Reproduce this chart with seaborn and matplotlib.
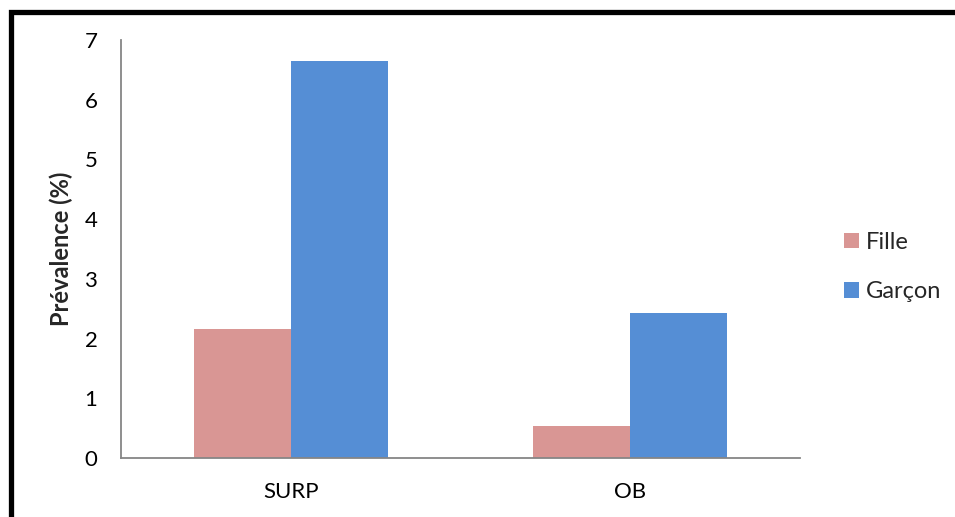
import matplotlib
matplotlib.use("Agg")
import matplotlib.pyplot as plt
from matplotlib.patches import Rectangle, Patch
import seaborn as sns
import pandas as pd

categories = ["SURP", "OB"]
fille = [2.16, 0.54]
garcon = [6.65, 2.42]
series_names = ["Fille", "Garçon"]
colors = ["#D99694", "#558ED5"]

df = pd.DataFrame({
    "groupe": categories * 2,
    "sexe": [series_names[0]] * 2 + [series_names[1]] * 2,
    "valeur": fille + garcon,
})

sns.set_theme(style="white")
plt.rcParams["font.family"] = ["Lato", "DejaVu Sans"]

fig = plt.figure(figsize=(9.55, 5.17), dpi=100)
ax = fig.add_axes([121 / 955, 1 - 458 / 517, 679 / 955, 418 / 517])

sns.barplot(data=df, x="groupe", y="valeur", hue="sexe", order=categories,
            hue_order=series_names, palette=colors, width=0.572, gap=0,
            saturation=1, ax=ax, legend=False, linewidth=0)

ax.set_xlim(-0.5, 1.5)
ax.set_ylim(0, 7)
ax.set_yticks(range(0, 8))
ax.tick_params(axis="both", length=0, labelsize=16, colors="black")
ax.tick_params(axis="y", pad=17)
ax.tick_params(axis="x", pad=17)
ax.set_xlabel("")
ax.set_ylabel("Prévalence (%)", fontsize=17, fontweight="bold", labelpad=8)

for side in ["top", "right"]:
    ax.spines[side].set_visible(False)
for side in ["left", "bottom"]:
    ax.spines[side].set_color("#868686")
    ax.spines[side].set_linewidth(1.3)

handles = [Patch(facecolor=c, edgecolor="none") for c in colors]
fig.legend(handles, series_names, loc="center left",
           bbox_to_anchor=(823 / 955, 1 - 267 / 517), frameon=False,
           fontsize=17, handlelength=0.62, handleheight=0.62,
           handletextpad=0.3, labelspacing=1.2)

# outer frame: left and top edges visible, the rest runs off the canvas
fig.add_artist(Rectangle((10.5 / 955, -0.05), 1.0, 1.05 - 11.5 / 517,
                         transform=fig.transFigure, fill=False,
                         edgecolor="black", linewidth=3.8, clip_on=False))

fig.savefig("out.png", dpi=100)
